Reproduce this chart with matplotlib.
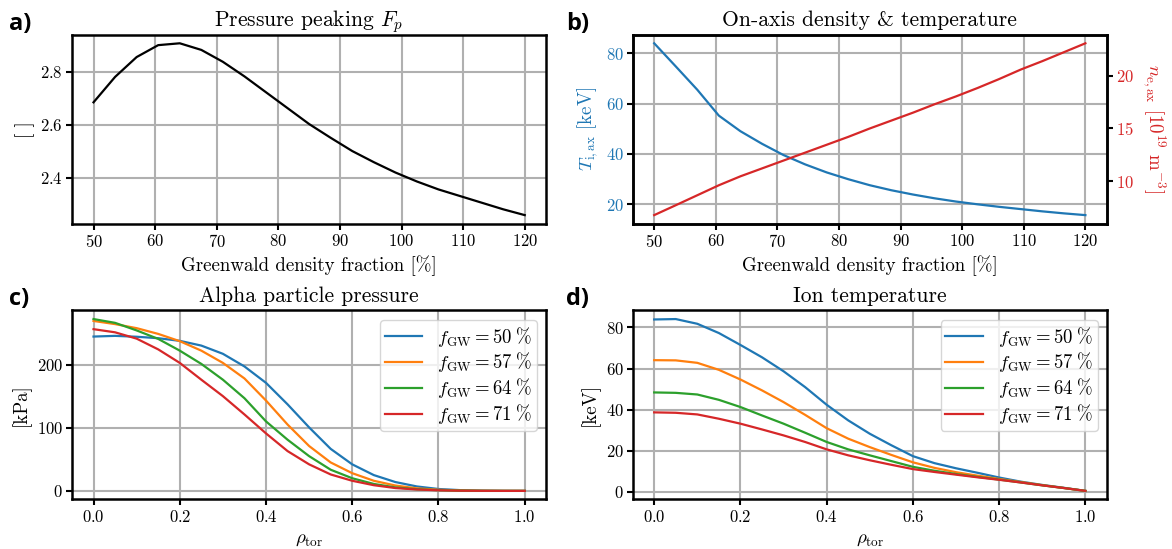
import numpy as np
import matplotlib
matplotlib.use("Agg")
import matplotlib.pyplot as plt

plt.rcParams['font.family'] = 'serif'
plt.rcParams['font.serif'] = ['cmr10']
plt.rcParams['mathtext.fontset'] = 'cm'
plt.rcParams['axes.formatter.use_mathtext'] = True
plt.rcParams['axes.unicode_minus'] = False

# density scan (Greenwald fraction, %)
f_gw = [50, 53.5, 57, 60.5, 64, 67.5, 71, 74.5, 78, 81.5, 85,
        88.5, 92, 95.5, 99, 102.5, 106, 109.5, 113, 116.5, 120]
Fp = [2.684, 2.78, 2.855, 2.90, 2.907, 2.882, 2.837, 2.782, 2.722, 2.662, 2.602,
      2.550, 2.500, 2.458, 2.419, 2.385, 2.355, 2.330, 2.305, 2.280, 2.258]
Ti_ax = [84.0, 74.8, 65.5, 55.2, 49.0, 44.0, 39.5, 35.8, 32.6, 29.9, 27.5,
         25.5, 23.8, 22.3, 21.0, 19.9, 18.9, 18.0, 17.1, 16.3, 15.6]
ne_ax = [6.76, 7.7, 8.65, 9.6, 10.45, 11.2, 11.95, 12.7, 13.45, 14.2, 15.0,
         15.75, 16.5, 17.3, 18.05, 18.85, 19.7, 20.6, 21.4, 22.25, 23.1]

# radial profiles
rho = [0.0, 0.05, 0.1, 0.15, 0.2, 0.25, 0.3, 0.35, 0.4, 0.45, 0.5,
       0.55, 0.6, 0.65, 0.7, 0.75, 0.8, 0.85, 0.9, 0.95, 1.0]
labels = [50, 57, 64, 71]
p_alpha = [
    [244.3, 245.4, 244.0, 241.7, 237.5, 230, 217, 197, 171, 137, 100.5, 66.5, 42, 25, 14, 7, 3, 1.2, 0.4, 0.1, 0],
    [269, 264, 257.6, 248.5, 237, 222, 202.6, 178, 143, 105, 71, 45, 28, 16, 8.5, 4, 1.8, 0.7, 0.2, 0.05, 0],
    [272, 266, 254, 240.6, 222, 201, 176, 146.7, 110, 81, 55, 33.5, 20, 11, 5.5, 2.6, 1.1, 0.4, 0.1, 0, 0],
    [256, 251, 241, 224, 202.6, 176, 150, 121, 91, 63, 42, 26, 16, 9, 4.5, 2.2, 0.9, 0.3, 0.1, 0, 0],
]
Ti = [
    [83.9, 84.1, 81.8, 77.3, 71.5, 65.5, 58.7, 51.0, 42.4, 34.8, 28.3, 22.7, 17.4, 14.0, 11.5, 9.3, 7.0, 5.0, 3.4, 2.0, 0.5],
    [64.1, 64.0, 62.8, 59.4, 54.7, 49.4, 43.7, 37.5, 31.0, 25.9, 21.8, 18.0, 14.4, 11.7, 9.6, 7.9, 6.3, 4.8, 3.3, 1.9, 0.5],
    [48.4, 48.2, 47.4, 44.8, 41.3, 37.2, 33.2, 28.8, 24.3, 20.7, 17.8, 15.0, 12.2, 10.3, 8.7, 7.3, 6.0, 4.6, 3.2, 1.9, 0.5],
    [38.7, 38.5, 37.7, 35.6, 33.2, 30.4, 27.5, 24.3, 20.7, 17.8, 15.4, 13.2, 11.1, 9.7, 8.4, 7.1, 5.9, 4.6, 3.2, 1.9, 0.5],
]
colors = ['tab:blue', 'tab:orange', 'tab:green', 'tab:red']

fig, axs = plt.subplots(2, 2, figsize=(11.72, 5.49), dpi=100)
plt.subplots_adjust(left=0.0614, right=0.9445, top=0.9368, bottom=0.0902, wspace=0.182, hspace=0.459)

tick_fs = 12
label_fs = 13.6
title_fs = 15.5
leg_fs = 13.5

for ax in axs.flat:
    ax.grid(True, color='#b0b0b0', linewidth=1.5)
    ax.set_axisbelow(True)
    for s in ax.spines.values():
        s.set_linewidth(1.8)
    ax.tick_params(labelsize=tick_fs, width=1.5, length=4, pad=2.5)

lw = 1.6

ax = axs[0, 0]
ax.plot(f_gw, Fp, color='black', lw=lw)
ax.set_title(r'Pressure peaking $F_p$', fontsize=title_fs)
ax.set_xlabel(r'Greenwald density fraction [%]', fontsize=label_fs)
ax.set_ylabel('[ ]', fontsize=label_fs)
ax.set_xticks(range(50, 121, 10))
ax.set_yticks([2.4, 2.6, 2.8])

ax = axs[0, 1]
ax.plot(f_gw, Ti_ax, color='tab:blue', lw=lw)
ax.set_title(r'On-axis density & temperature', fontsize=title_fs)
ax.set_xlabel(r'Greenwald density fraction [%]', fontsize=label_fs)
ax.set_ylabel(r'$T_{\mathrm{i,ax}}$ [keV]', fontsize=label_fs, color='tab:blue')
ax.tick_params(axis='y', labelcolor='tab:blue')
ax.set_xticks(range(50, 121, 10))
ax.set_yticks([20, 40, 60, 80])
ax2 = ax.twinx()
ax2.plot(f_gw, ne_ax, color='tab:red', lw=lw)
ax2.set_ylabel(r'$n_{\mathrm{e,ax}}$ [$10^{19}$ m$^{-3}$]', fontsize=label_fs,
               color='tab:red', rotation=270, labelpad=24)
ax2.tick_params(axis='y', labelcolor='tab:red', labelsize=tick_fs, width=1.5, length=4, pad=2.5)
ax2.set_yticks([10, 15, 20])
for s in ax2.spines.values():
    s.set_linewidth(1.8)

ax = axs[1, 0]
for i, lab in enumerate(labels):
    ax.plot(rho, p_alpha[i], color=colors[i], lw=lw,
            label=r'$f_{\mathrm{GW}} = %d\;\%%$' % lab)
ax.set_title('Alpha particle pressure', fontsize=title_fs)
ax.set_xlabel(r'$\rho_{\mathrm{tor}}$', fontsize=label_fs)
ax.set_ylabel('[kPa]', fontsize=label_fs)
ax.set_yticks([0, 100, 200])
ax.legend(loc='upper right', fontsize=leg_fs, labelspacing=0.1, borderpad=0.25)

ax = axs[1, 1]
for i, lab in enumerate(labels):
    ax.plot(rho, Ti[i], color=colors[i], lw=lw,
            label=r'$f_{\mathrm{GW}} = %d\;\%%$' % lab)
ax.set_title('Ion temperature', fontsize=title_fs)
ax.set_xlabel(r'$\rho_{\mathrm{tor}}$', fontsize=label_fs)
ax.set_ylabel('[keV]', fontsize=label_fs)
ax.set_yticks([0, 20, 40, 60, 80])
ax.legend(loc='upper right', fontsize=leg_fs, labelspacing=0.1, borderpad=0.25)

for x, y, t in [(0.008, 0.946, 'a)'), (0.483, 0.946, 'b)'),
                (0.008, 0.444, 'c)'), (0.483, 0.444, 'd)')]:
    fig.text(x, y, t, fontsize=17, fontweight='bold', family='Open Sans')

fig.savefig('out.png', dpi=100)
